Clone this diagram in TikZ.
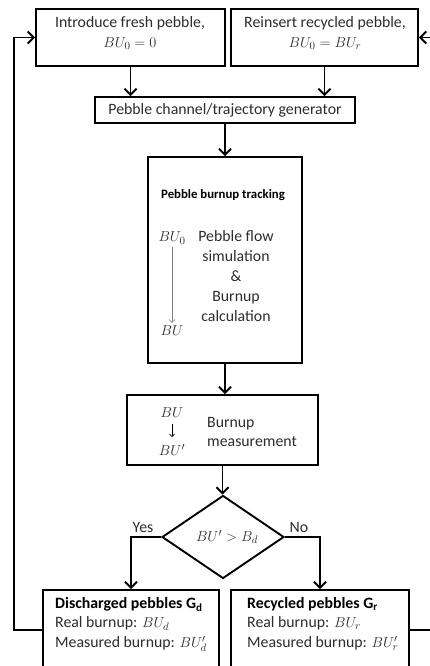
\documentclass[tikz,border=0pt]{standalone}
\usepackage{fontspec}
\setmainfont{Carlito}
\usetikzlibrary{shapes.geometric,arrows.meta}
\definecolor{txt}{RGB}{45,45,45}
\begin{document}
\begin{tikzpicture}[x=1pt,y=-1pt,
  box/.style={draw, line width=1.9pt, inner sep=0pt},
  label/.style={inner sep=0pt, text=txt, align=center, font=\fontsize{15.8}{19.8}\selectfont},
  leftlabel/.style={inner sep=0pt, text=txt, align=left, font=\fontsize{15.8}{19.5}\selectfont},
  mathlabel/.style={inner sep=0pt, text=txt, font=\fontsize{15.5}{18}\selectfont},
  flow/.style={line width=1.9pt, -{Straight Barb[length=6pt,width=12pt,line width=1.9pt]}},
  thinflow/.style={line width=0.6pt, draw=gray, -{Straight Barb[length=3pt,width=6pt]}}]
\clip (0,0) rectangle (430,666);
\fill[white] (0,0) rectangle (430,666);

% top row: pebble sources
\node[box, minimum width=189pt, minimum height=57pt] (fresh) at (130.5,37.5) {};
\node[label] (freshtxt) at (130,33) {Introduce fresh pebble,\\ $BU_0 = 0$};
\node[box, minimum width=187pt, minimum height=57pt] (reinsert) at (324.5,37.5) {};
\node[label] (reinserttxt) at (325,33) {Reinsert recycled pebble,\\ $BU_0 = BU_r$};

% trajectory generator
\node[box, minimum width=260pt, minimum height=26pt] (gen) at (225,110) {};
\node[label] (gentxt) at (225,110) {Pebble channel/trajectory generator};

% burnup tracking
\node[box, minimum width=154pt, minimum height=206pt] (track) at (225,260) {};
\node[inner sep=0pt, font=\fontsize{12.8}{15}\selectfont\bfseries] (tracktitle) at (223,195) {Pebble burnup tracking};
\node[mathlabel] (bu0) at (172,238) {$BU_0$};
\node[mathlabel] (bu) at (172,331) {$BU$};
\draw[thinflow] (bu0.south) ++(0,3) -- ([yshift=3pt]bu.north);
\node[label] (tracktxt) at (236,276) {Pebble flow\\ simulation\\ \&\\ Burnup\\ calculation};

% burnup measurement
\node[box, minimum width=191pt, minimum height=70pt] (meas) at (222.5,430) {};
\node[mathlabel] (mbu) at (172,413) {$BU$};
\node[mathlabel] (mbup) at (172,450) {$BU'$};
\draw[line width=0.6pt, -{Straight Barb[length=2.5pt,width=5pt]}] (172,424) -- (172,437);
\node[leftlabel, anchor=west] (meastxt) at (207,432) {Burnup\\ measurement};

% decision
\node[box, shape=diamond, minimum width=122pt, minimum height=83pt] (dec) at (223,537) {};
\node[mathlabel] (dectxt) at (227,537) {$BU' > B_d$};

% outcome groups
\node[box, minimum width=176pt, minimum height=80pt] (disc) at (131,630) {};
\node[leftlabel, anchor=north west] (disctxt) at (55,597) {\textcolor{black}{\textbf{Discharged pebbles G\textsubscript{d}}}\\ Real burnup: $BU_d$\\ Measured burnup: $BU'_d$};
\node[box, minimum width=178pt, minimum height=80pt] (recyc) at (320,630) {};
\node[leftlabel, anchor=north west] (recyctxt) at (247,597) {\textcolor{black}{\textbf{Recycled pebbles G\textsubscript{r}}}\\ Real burnup: $BU_r$\\ Measured burnup: $BU'_r$};

% main flow
\draw[flow] (fresh.south) -- (fresh.south |- gen.north);
\draw[flow] (reinsert.south) -- (reinsert.south |- gen.north);
\draw[flow] (gen.south) -- (gen.south |- track.north);
\draw[flow] (track.south) -- (track.south |- meas.north);
\draw[flow] (meas.south) -- (meas.south |- dec.north);
\draw[flow] (dec.west) -| (disc.north);
\draw[flow] (dec.east) -| (recyc.north);
\node[label, anchor=south] (yes) at (143,533) {Yes};
\node[label, anchor=south] (no) at (299,533) {No};

% feedback loops
\draw[flow] (disc.west) -- ++(-28,0) |- (fresh.west);
\draw[flow] (recyc.east) -- ++(25,0) |- (reinsert.east);
\end{tikzpicture}
\end{document}
